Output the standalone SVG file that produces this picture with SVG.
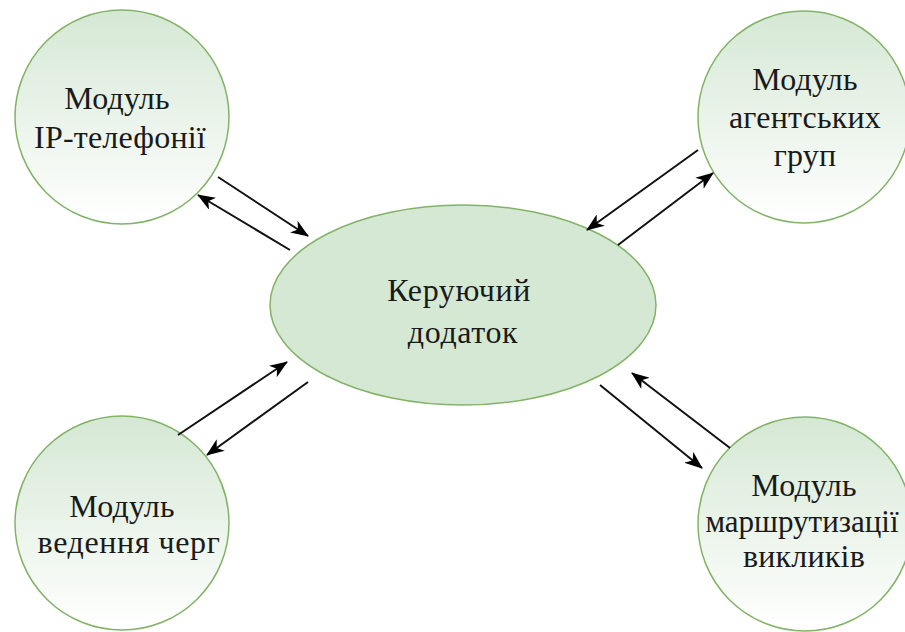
<svg xmlns="http://www.w3.org/2000/svg" width="905" height="632" viewBox="0 0 905 632">
  <style>
    .node { stroke: #82b366; stroke-width: 1.5; }
    .circle { fill: url(#fade); }
    .core { fill: #d5e8d4; }
    .label { font-family: "Liberation Serif", "Times New Roman", Times, "DejaVu Serif", serif; font-size: 32px; letter-spacing: 0.2px; fill: #1a1a1a; text-anchor: middle; }
    .tight { letter-spacing: 0; font-size: 31px; }
    .wide { letter-spacing: 0.6px; }
    .link { stroke: #111; stroke-width: 2; fill: none; marker-end: url(#arrow); }
  </style>
  <defs>
    <linearGradient id="fade" x1="0" y1="0" x2="0" y2="1">
      <stop offset="0" stop-color="#d5e8d4"/>
      <stop offset="1" stop-color="#ffffff"/>
    </linearGradient>
    <marker id="arrow" viewBox="0 0 18 14" refX="17" refY="7" markerWidth="18" markerHeight="14" markerUnits="userSpaceOnUse" orient="auto">
      <path d="M0,0 L18,7 L0,14 L5,7 z" fill="#000"/>
    </marker>
  </defs>

  <rect width="905" height="632" fill="#ffffff"/>

  <g id="ip-telephony">
    <circle class="node circle" cx="122" cy="117" r="107"/>
    <text class="label" x="117" y="109">Модуль</text>
    <text class="label" x="120" y="148">IP-телефонії</text>
  </g>

  <g id="agent-groups">
    <circle class="node circle" cx="804" cy="117" r="106"/>
    <text class="label" x="805" y="90">Модуль</text>
    <text class="label" x="805" y="128">агентських</text>
    <text class="label" x="805" y="166">груп</text>
  </g>

  <g id="queueing">
    <circle class="node circle" cx="122" cy="523" r="107"/>
    <text class="label" x="122" y="517">Модуль</text>
    <text class="label wide" x="129" y="553">ведення черг</text>
  </g>

  <g id="call-routing">
    <circle class="node circle" cx="805" cy="524" r="107"/>
    <text class="label" x="804" y="496">Модуль</text>
    <text class="label tight" x="802" y="532">маршрутизації</text>
    <text class="label" x="804" y="567">викликів</text>
  </g>

  <g id="controller">
    <ellipse class="node core" cx="463" cy="305" rx="193" ry="100"/>
    <text class="label wide" x="459" y="301">Керуючий</text>
    <text class="label wide" x="463" y="343">додаток</text>
  </g>

  <g id="connectors">
    <line class="link" x1="218" y1="177" x2="308" y2="236"/>
    <line class="link" x1="290" y1="250" x2="198" y2="195"/>
    <line class="link" x1="698" y1="150" x2="587" y2="230"/>
    <line class="link" x1="618" y1="245" x2="713" y2="173"/>
    <line class="link" x1="178" y1="435" x2="287" y2="362"/>
    <line class="link" x1="308" y1="382" x2="207" y2="455"/>
    <line class="link" x1="600" y1="385" x2="702" y2="468"/>
    <line class="link" x1="730" y1="448" x2="632" y2="373"/>
  </g>
</svg>
